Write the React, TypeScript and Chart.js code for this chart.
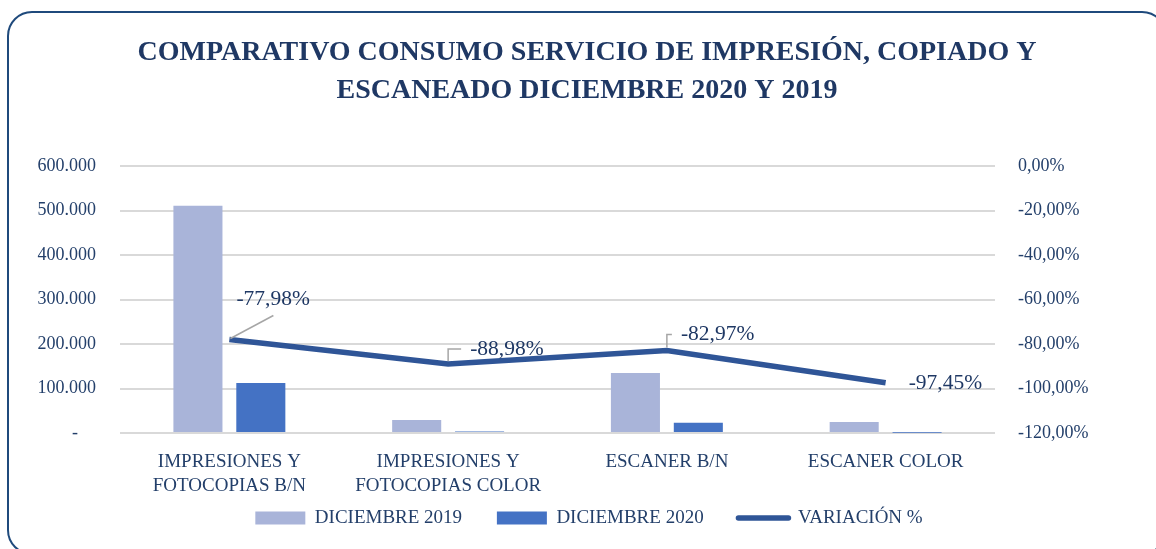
import { useEffect, useRef } from 'react';
import { Chart, registerables } from 'chart.js';

Chart.register(...registerables);

const categories: (string | string[])[] = [
  ['IMPRESIONES Y', 'FOTOCOPIAS B/N'],
  ['IMPRESIONES Y', 'FOTOCOPIAS COLOR'],
  'ESCANER B/N',
  'ESCANER COLOR',
];
const dic2019 = [510500, 29000, 135000, 25000];
const dic2020 = [112400, 3200, 23000, 640];
const variacion = [-77.98, -88.98, -82.97, -97.45];
const seriesNames = ['DICIEMBRE 2019', 'DICIEMBRE 2020', 'VARIACIÓN %'];
const titleLines = [
  'COMPARATIVO CONSUMO SERVICIO DE IMPRESIÓN, COPIADO Y',
  'ESCANEADO DICIEMBRE 2020 Y 2019',
];

const FONT = '"Liberation Serif", "Times New Roman", serif';
const NAVY = '#1F3864';
const TEXT = '#233F6A';

const fmtThousands = (v: number) => {
  if (v === 0) return '-    ';
  return Math.round(v).toString().replace(/\B(?=(\d{3})+(?!\d))/g, '.');
};
const fmtPct = (v: number) => v.toFixed(2).replace('.', ',') + '%';

// label placement relative to each line point (style only)
const labelLayout = [
  { dx: 7, dy: -40, leader: 'diag' },
  { dx: 22, dy: -15, leader: 'elbow' },
  { dx: 14, dy: -16, leader: 'elbow' },
  { dx: 23, dy: 1, leader: 'none' },
];

const varLabels = {
  id: 'varLabels',
  afterDatasetsDraw(chart: any) {
    const meta = chart.getDatasetMeta(2);
    const ctx = chart.ctx;
    ctx.save();
    meta.data.forEach((pt: any, i: number) => {
      const { x, y } = pt;
      const l = labelLayout[i];
      ctx.strokeStyle = '#A6A6A6';
      ctx.lineWidth = 1.5;
      if (l.leader === 'diag') {
        ctx.beginPath();
        ctx.moveTo(x + 1, y - 1);
        ctx.lineTo(x + 44, y - 24);
        ctx.stroke();
      } else if (l.leader === 'elbow') {
        ctx.beginPath();
        ctx.moveTo(x, y - 3);
        ctx.lineTo(x, y + l.dy);
        ctx.lineTo(x + l.dx - 9, y + l.dy);
        ctx.stroke();
      }
      ctx.font = `21.5px ${FONT}`;
      ctx.fillStyle = NAVY;
      ctx.textAlign = 'left';
      ctx.textBaseline = 'middle';
      ctx.fillText(fmtPct(variacion[i]), x + l.dx, y + l.dy);
    });
    ctx.restore();
  },
};

const shiftBoxes = {
  id: 'shiftBoxes',
  afterLayout(chart: any) {
    if (chart.legend) {
      chart.legend.left += 11;
      chart.legend.right += 11;
    }
    if (chart.titleBlock) {
      chart.titleBlock.left += 9;
      chart.titleBlock.right += 9;
    }
  },
};

export default function App() {
  const ref = useRef<HTMLCanvasElement>(null);
  useEffect(() => {
    if (!ref.current) return;
    const chart = new Chart(ref.current, {
      type: 'bar',
      data: {
        labels: categories as any,
        datasets: [
          {
            label: seriesNames[0] + '\u2003\u2009',
            data: dic2019,
            backgroundColor: '#A9B4D9',
            yAxisID: 'y',
            categoryPercentage: 0.575,
            barPercentage: 0.78,
          },
          {
            label: seriesNames[1] + '\u2003\u2009',
            data: dic2020,
            backgroundColor: '#4472C4',
            yAxisID: 'y',
            categoryPercentage: 0.575,
            barPercentage: 0.78,
          },
          {
            type: 'line',
            label: seriesNames[2],
            data: variacion,
            borderColor: '#2F5597',
            backgroundColor: '#2F5597',
            borderWidth: 5.5,
            pointRadius: 0,
            tension: 0,
            yAxisID: 'y1',
          } as any,
        ],
      },
      options: {
        responsive: false,
        animation: false,
        layout: { padding: { top: 0, bottom: 11.5, left: 0, right: 0 } },
        plugins: {
          tooltip: { enabled: false },
          title: {
            display: true,
            text: titleLines,
            color: NAVY,
            font: { family: FONT, size: 28, weight: 'bold', lineHeight: 38 / 28 },
            padding: { top: 34, bottom: 56 },
          },
          legend: {
            position: 'bottom',
            labels: {
              usePointStyle: true,
              pointStyleWidth: 50,
              boxHeight: 13,
              padding: 12,
              color: TEXT,
              font: { family: FONT, size: 19 },
              generateLabels(chart: any) {
                const items = Chart.defaults.plugins.legend.labels.generateLabels(chart);
                return items.map((it: any, i: number) => {
                  if (i === 2) {
                    return { ...it, pointStyle: 'line', lineWidth: 5.5, lineCap: 'round', strokeStyle: '#2F5597' };
                  }
                  return { ...it, pointStyle: 'rect', lineWidth: 0 };
                });
              },
            },
          },
        },
        scales: {
          x: {
            grid: { display: false },
            border: { display: false },
            ticks: { color: TEXT, font: { family: FONT, size: 19, lineHeight: 1.26 }, padding: 9, maxRotation: 0 },
            afterFit: (s: any) => { s.height = 63.5; },
          },
          y: {
            position: 'left',
            min: 0,
            max: 600000,
            ticks: {
              stepSize: 100000,
              color: TEXT,
              font: { family: FONT, size: 18 },
              padding: 24,
              callback: (v: any) => fmtThousands(Number(v)),
            },
            grid: { color: '#D9D9D9', lineWidth: 2, drawTicks: false },
            border: { display: false },
            afterFit: (s: any) => { s.width = 120; },
          },
          y1: {
            position: 'right',
            min: -120,
            max: 0,
            ticks: {
              stepSize: 20,
              color: TEXT,
              font: { family: FONT, size: 18 },
              padding: 23,
              callback: (v: any) => fmtPct(Number(v)),
            },
            grid: { display: false, drawTicks: false },
            border: { display: false },
            afterFit: (s: any) => { s.width = 161; },
          },
        },
      },
      plugins: [varLabels, shiftBoxes],
    } as any);
    return () => chart.destroy();
  }, []);

  return (
    <div style={{ position: 'fixed', left: 0, top: 0, width: 1156, height: 549, overflow: 'hidden', background: '#fff' }}>
      <canvas ref={ref} width={1156} height={549} style={{ position: 'absolute', left: 0, top: 0, width: 1156, height: 549 }} />
      <div
        style={{
          position: 'absolute',
          left: 7,
          top: 11,
          width: 1160,
          height: 544,
          border: '2px solid #1F4A7C',
          borderRadius: 25,
          boxSizing: 'border-box',
          pointerEvents: 'none',
        }}
      />
    </div>
  );
}
